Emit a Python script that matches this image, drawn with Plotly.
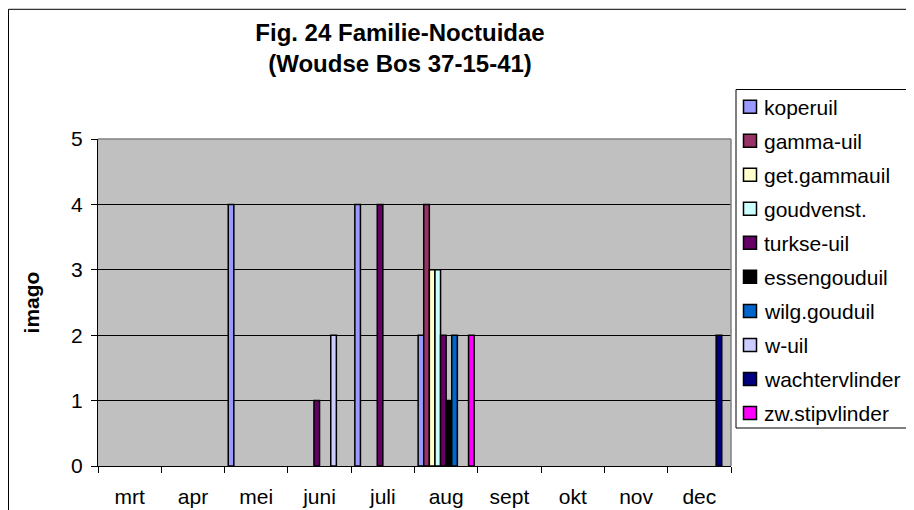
import plotly.graph_objects as go

categories = ["mrt", "apr", "mei", "juni", "juli", "aug", "sept", "okt", "nov", "dec"]

series_names = ["koperuil", "gamma-uil", "get.gammauil", "goudvenst.", "turkse-uil",
                "essengouduil", "wilg.gouduil", "w-uil", "wachtervlinder", "zw.stipvlinder"]

koperuil       = [0, 0, 4, 0, 4, 2, 0, 0, 0, 0]
gamma_uil      = [0, 0, 0, 0, 0, 4, 0, 0, 0, 0]
get_gammauil   = [0, 0, 0, 0, 0, 3, 0, 0, 0, 0]
goudvenst      = [0, 0, 0, 0, 0, 3, 0, 0, 0, 0]
turkse_uil     = [0, 0, 0, 1, 4, 2, 0, 0, 0, 0]
essengouduil   = [0, 0, 0, 0, 0, 1, 0, 0, 0, 0]
wilg_gouduil   = [0, 0, 0, 0, 0, 2, 0, 0, 0, 0]
w_uil          = [0, 0, 0, 2, 0, 0, 0, 0, 0, 0]
wachtervlinder = [0, 0, 0, 0, 0, 0, 0, 0, 0, 2]
zw_stipvlinder = [0, 0, 0, 0, 0, 2, 0, 0, 0, 0]

series_values = [koperuil, gamma_uil, get_gammauil, goudvenst, turkse_uil,
                 essengouduil, wilg_gouduil, w_uil, wachtervlinder, zw_stipvlinder]

colors = ["#9999FF", "#993366", "#FFFFCC", "#CCFFFF", "#660066",
          "#000000", "#0066CC", "#CCCCFF", "#000080", "#FF00FF"]

y_ticks = [0, 1, 2, 3, 4, 5]

FONT = "Liberation Sans, Arial, sans-serif"

# page offset (body margin) -> work in figure pixel coordinates
OFF = 8
W, H = 914 - OFF, 510 - OFF
PL, PR, PT, PB = 98 - OFF, 731 - OFF, 139 - OFF, 466 - OFF  # plot area


def px_x(x):
    return (x - OFF - PL) / (PR - PL)


def px_y(y):
    return (PB - (y - OFF)) / (PB - PT)


fig = go.Figure()
for name, vals, col in zip(series_names, series_values, colors):
    fig.add_trace(go.Bar(
        x=categories,
        y=[v if v else None for v in vals],
        name=name,
        showlegend=False,
        marker=dict(color=col, line=dict(color="#000000", width=1.5)),
    ))

shapes = [
    # outer chart border
    dict(type="rect", xref="paper", yref="paper",
         x0=px_x(8.5), x1=px_x(930), y0=px_y(530), y1=px_y(9.3),
         line=dict(color="black", width=1), fillcolor="rgba(0,0,0,0)", layer="below"),
    # plot area top and right border
    dict(type="line", xref="paper", yref="paper", x0=0, x1=1, y0=1, y1=1,
         line=dict(color="#808080", width=1.5)),
    dict(type="line", xref="paper", yref="paper", x0=1, x1=1, y0=0, y1=1,
         line=dict(color="#808080", width=1.5)),
    # legend box
    dict(type="rect", xref="paper", yref="paper",
         x0=px_x(736), x1=px_x(911), y0=px_y(428), y1=px_y(89.5),
         line=dict(color="black", width=1), fillcolor="white", layer="above"),
]
annotations = []

# legend entries (square swatch + label)
LEG_Y0, LEG_DY = 106.7, 34.03
for i, (name, col) in enumerate(zip(series_names, colors)):
    cy = LEG_Y0 + i * LEG_DY
    shapes.append(dict(type="rect", xref="paper", yref="paper",
                       x0=px_x(743.5), x1=px_x(756.5), y0=px_y(cy + 6.5), y1=px_y(cy - 6.5),
                       line=dict(color="black", width=1.5), fillcolor=col, layer="above"))
    annotations.append(dict(xref="paper", yref="paper", x=px_x(762), y=px_y(cy + 1),
                            xanchor="left", yanchor="middle", showarrow=False,
                            text=name, font=dict(family=FONT, size=21, color="black")))

fig.update_layout(
    width=W, height=H,
    margin=dict(l=PL, r=W - PR, t=PT, b=H - PB, autoexpand=False),
    paper_bgcolor="white",
    plot_bgcolor="#C0C0C0",
    barmode="group",
    bargap=0.115,
    bargroupgap=0,
    showlegend=False,
    font=dict(family=FONT, size=21, color="black"),
    title=dict(
        text="<b>Fig. 24 Familie-Noctuidae<br>(Woudse Bos 37-15-41)</b>",
        font=dict(family=FONT, size=24, color="black"),
        x=px_x(400), xref="paper", xanchor="center",
        y=1 - 32.5 / H, yref="container", yanchor="top",
    ),
    xaxis=dict(
        type="category",
        range=[-0.5, 9.5],
        tickson="boundaries",
        ticks="outside", ticklen=6, tickcolor="black",
        ticklabelstandoff=12,
        showline=True, linecolor="black", linewidth=1,
        showgrid=False,
        tickfont=dict(family=FONT, size=21, color="black"),
        fixedrange=True,
    ),
    yaxis=dict(
        range=[0, 5],
        tickvals=y_ticks,
        ticks="outside", ticklen=6, tickcolor="black",
        ticklabelstandoff=4,
        showline=True, linecolor="black", linewidth=1,
        showgrid=True, gridcolor="black", gridwidth=1,
        zeroline=False,
        tickfont=dict(family=FONT, size=21, color="black"),
        title=dict(text="<b>imago</b>", font=dict(family=FONT, size=21, color="black"), standoff=25),
        automargin=False,
        fixedrange=True,
    ),
    shapes=shapes,
    annotations=annotations,
)

fig.write_html("out.html")
